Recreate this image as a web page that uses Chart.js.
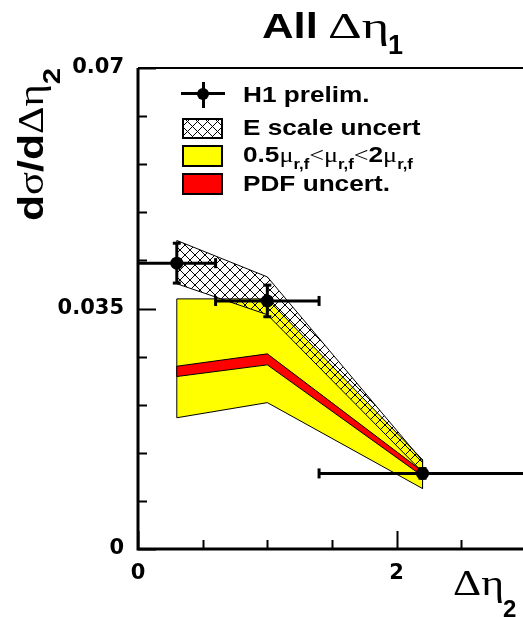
<!DOCTYPE html>
<html>
<head>
<meta charset="utf-8">
<script src="https://cdn.jsdelivr.net/npm/chart.js@4"></script>
<style>
  html, body { margin: 0; padding: 0; background: #fff; overflow: hidden; }
  #wrap { position: relative; width: 540px; height: 617px; }
  canvas { position: absolute; left: 0; top: 0; }
  .t { position: absolute; white-space: nowrap; transform-origin: 0 0; color: #000; }
  .sans { font-family: 'Liberation Sans', Arial, sans-serif; font-weight: bold; }
  .gr { font-family: 'Liberation Serif', serif; font-weight: normal; }
  .sub { position: relative; font-family: 'Liberation Sans', Arial, sans-serif; font-weight: bold; }
  .box { position: absolute; box-sizing: border-box; border: 2px solid #000; }
</style>
</head>
<body>
<div id="wrap">
  <canvas id="c" width="540" height="617"></canvas>

  <!-- title -->
  <div class="t sans" style="left:262px; top:8px; font-size:35px; line-height:35px; transform:scaleX(1.25);">All</div>
  <div class="t gr" style="left:328px; top:9px; font-size:35px; line-height:35px; transform:scaleX(1.5);">Δη</div>
  <div class="t sans" style="left:388px; top:32px; font-size:27px; line-height:27px;">1</div>

  <!-- y axis title -->
  <div class="t sans" style="left:13px; top:221px; font-size:35px; line-height:35px; transform:rotate(-90deg) scaleX(1.22);">d<span class="gr">σ</span>/d<span class="gr">Δη</span><span class="sub" style="font-size:24px; top:17px;">2</span></div>

  <!-- x axis title -->
  <div class="t gr" style="left:453px; top:566px; font-size:35px; line-height:35px; transform:scaleX(1.25);">Δη</div>
  <div class="t sans" style="left:503px; top:597px; font-size:24px; line-height:24px;">2</div>

  <!-- legend -->
  <div style="position:absolute; left:181px; top:92px; width:44px; height:3px; background:#000;"></div>
  <div style="position:absolute; left:202px; top:82px; width:3px; height:26px; background:#000;"></div>
  <div style="position:absolute; left:197px; top:88px; width:12px; height:12px; border-radius:50%; background:#000;"></div>
  <div class="box" style="left:182px; top:118px; width:41px; height:21px;
       background: repeating-linear-gradient(45deg, transparent 0 6px, #000 6px 7px),
                   repeating-linear-gradient(-45deg, transparent 0 6px, #000 6px 7px), #fff;"></div>
  <div class="box" style="left:182px; top:145px; width:41px; height:22px; background:#ffff00;"></div>
  <div class="box" style="left:182px; top:173px; width:41px; height:22px; background:#ff0000;"></div>

  <div class="t sans" style="left:243px; top:84px; font-size:22px; line-height:22px; transform:scaleX(1.19);">H1 prelim.</div>
  <div class="t sans" style="left:243px; top:117px; font-size:22px; line-height:22px; transform:scaleX(1.19);">E scale uncert</div>
  <div class="t sans" style="left:243px; top:144px; font-size:22px; line-height:22px; transform:scaleX(1.19);">0.5<span class="gr">μ</span><span class="sub" style="font-size:14px; top:7px;">r,f</span><span class="gr">&lt;μ</span><span class="sub" style="font-size:14px; top:7px;">r,f</span><span class="gr">&lt;</span>2<span class="gr">μ</span><span class="sub" style="font-size:14px; top:7px;">r,f</span></div>
  <div class="t sans" style="left:243px; top:173px; font-size:22px; line-height:22px; transform:scaleX(1.19);">PDF uncert.</div>
</div>

<script>
// H1 data points
const xPts = [0.3, 1.0, 2.2];
const h1Val = [0.0416, 0.0361, 0.0110];
const h1Err = [0.0029, 0.0023, 0.0007];
const h1XLow = [0, 0.6, 1.4];
const h1XHigh = [0.6, 1.4, 3.0];

// E scale uncertainty band
const eScaleX = [0.3, 1.0, 2.2];
const eScaleHigh = [0.0449, 0.0396, 0.0128];
const eScaleLow = [0.0386, 0.0341, 0.0112];

// scale variation band (0.5 mu < mu < 2 mu)
const muX = [0.3, 1.0, 2.2];
const muHigh = [0.0364, 0.0364, 0.0130];
const muLow = [0.0191, 0.0213, 0.0088];

// PDF uncertainty band
const pdfX = [0.3, 1.0, 2.2];
const pdfHigh = [0.0266, 0.0284, 0.0113];
const pdfLow = [0.0251, 0.0268, 0.0106];

// axes
const xMin = 0, xMax = 3;
const xTicks = [0, 0.5, 1, 1.5, 2, 2.5, 3];
const xLabeled = [0, 2];
const yTicks = [0, 0.007, 0.014, 0.021, 0.028, 0.035, 0.042, 0.049, 0.056, 0.063, 0.07];
const yLabeled = [0, 0.035, 0.07];

const isIn = (v, list) => list.some(l => Math.abs(l - v) < 1e-9);

// closed outline: along the top, back along the bottom
function band(xs, lo, hi) {
  const pts = xs.map((x, i) => ({x: x, y: hi[i]}));
  for (let i = xs.length - 1; i >= 0; i--) pts.push({x: xs[i], y: lo[i]});
  pts.push(pts[0]);
  return pts;
}

function hatch() {
  const c = document.createElement('canvas');
  c.width = 10; c.height = 10;
  const g = c.getContext('2d');
  g.strokeStyle = '#000';
  g.lineWidth = 1;
  g.beginPath();
  g.moveTo(-1, -1); g.lineTo(11, 11);
  g.moveTo(11, -1); g.lineTo(-1, 11);
  g.stroke();
  return g.createPattern(c, 'repeat');
}

const datasets = [];

datasets.push({
  data: band(muX, muLow, muHigh),
  showLine: true, fill: 'shape',
  backgroundColor: '#ffff00', borderColor: '#000', borderWidth: 1,
  pointRadius: 0, order: 4
});
datasets.push({
  data: band(pdfX, pdfLow, pdfHigh),
  showLine: true, fill: 'shape',
  backgroundColor: '#ff0000', borderColor: '#000', borderWidth: 1,
  pointRadius: 0, order: 3
});
datasets.push({
  data: band(eScaleX, eScaleLow, eScaleHigh),
  showLine: true, fill: 'shape',
  backgroundColor: hatch(), borderColor: '#000', borderWidth: 1,
  pointRadius: 0, order: 2
});

// no end cap where a bar runs into the frame
const capRadius = ctx => {
  const v = ctx.raw && ctx.raw.x;
  return (v === xMin || v === xMax) ? 0 : 5;
};

// error bars
xPts.forEach((x, i) => {
  datasets.push({
    data: [{x: h1XLow[i], y: h1Val[i]}, {x: h1XHigh[i], y: h1Val[i]}],
    showLine: true, borderColor: '#000', borderWidth: 3,
    pointStyle: 'line', rotation: 90, pointRadius: capRadius,
    pointBorderColor: '#000', pointBorderWidth: 3, order: 1
  });
  datasets.push({
    data: [{x: x, y: h1Val[i] - h1Err[i]}, {x: x, y: h1Val[i] + h1Err[i]}],
    showLine: true, borderColor: '#000', borderWidth: 3,
    pointStyle: 'line', rotation: 0, pointRadius: 4,
    pointBorderColor: '#000', pointBorderWidth: 3, order: 1
  });
});

datasets.push({
  data: xPts.map((x, i) => ({x: x, y: h1Val[i]})),
  pointRadius: 6.5, pointBackgroundColor: '#000', pointBorderColor: '#000',
  pointBorderWidth: 0, order: 0
});

// inward ticks and frame
const frame = {
  id: 'frame',
  afterDatasetsDraw(chart) {
    const {ctx, chartArea: a, scales: {x, y}} = chart;
    ctx.save();
    ctx.strokeStyle = '#000';
    ctx.lineWidth = 2;
    ctx.beginPath();
    xTicks.forEach(v => {
      const px = Math.round(x.getPixelForValue(v)) + 0.5;
      const len = isIn(v, xLabeled) ? 18 : 9;
      ctx.moveTo(px, a.bottom); ctx.lineTo(px, a.bottom - len);
    });
    yTicks.forEach(v => {
      const py = Math.round(y.getPixelForValue(v)) + 0.5;
      const len = isIn(v, yLabeled) ? 18 : 9;
      ctx.moveTo(a.left, py); ctx.lineTo(a.left + len, py);
    });
    ctx.stroke();

    ctx.lineWidth = 3;
    ctx.beginPath();
    ctx.moveTo(a.left, a.top); ctx.lineTo(a.left, a.bottom); ctx.lineTo(a.right + 20, a.bottom);
    ctx.stroke();
    ctx.lineWidth = 2;
    ctx.beginPath();
    ctx.moveTo(a.left, a.top); ctx.lineTo(a.right + 20, a.top);
    ctx.stroke();
    ctx.restore();
  }
};

const tickFont = {family: 'DejaVu Sans', weight: 'bold', size: 21};

new Chart(document.getElementById('c'), {
  type: 'scatter',
  data: {datasets: datasets},
  options: {
    responsive: false,
    animation: false,
    devicePixelRatio: 1,
    layout: {padding: {top: 68, right: 14, left: 0, bottom: 0}},
    plugins: {legend: {display: false}, tooltip: {enabled: false}},
    scales: {
      x: {
        type: 'linear', min: xMin, max: xMax,
        afterFit: s => { s.height = 68; },
        afterBuildTicks: s => { s.ticks = xTicks.map(v => ({value: v})); },
        grid: {display: false, drawTicks: false},
        border: {display: false},
        ticks: {
          padding: 12, color: '#000', font: tickFont, maxRotation: 0, autoSkip: false,
          callback: v => isIn(v, xLabeled) ? String(v) : ''
        }
      },
      y: {
        type: 'linear', min: 0, max: 0.07,
        afterFit: s => { s.width = 138; },
        afterBuildTicks: s => { s.ticks = yTicks.map(v => ({value: v})); },
        grid: {display: false, drawTicks: false},
        border: {display: false},
        ticks: {
          padding: 14, color: '#000', font: tickFont, autoSkip: false,
          callback: v => isIn(v, yLabeled) ? String(+v.toFixed(3)) : ''
        }
      }
    }
  },
  plugins: [frame]
});
</script>
</body>
</html>
